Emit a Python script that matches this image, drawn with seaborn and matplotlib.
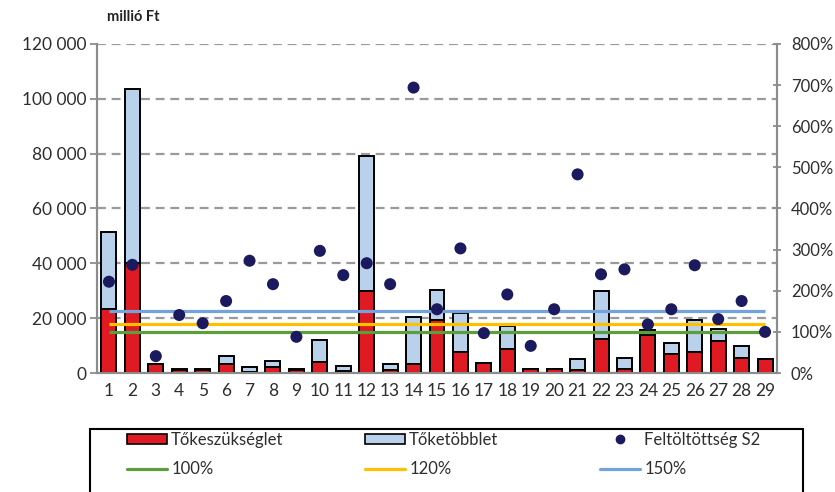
import matplotlib
matplotlib.use("Agg")
import matplotlib.pyplot as plt
from matplotlib.patches import Patch, Rectangle
from matplotlib.lines import Line2D
from matplotlib.ticker import FuncFormatter
import numpy as np
import pandas as pd
import seaborn as sns

# Insurer index 1..29
categories = [str(i) for i in range(1, 30)]

# Capital requirement (millió Ft)
tokeszukseglet = [23200, 40000, 3200, 1200, 1000, 3400, 400, 2200, 1200, 4000,
                  800, 30000, 1000, 3200, 19500, 7700, 3600, 8900, 1300, 1600,
                  1000, 12300, 1600, 14000, 7000, 7500, 11800, 5300, 5200]

# Capital surplus on top of the requirement (millió Ft)
toketobblet = [28300, 63500, 100, 400, 300, 2800, 1700, 2100, 100, 8200,
               1700, 49000, 2200, 17400, 10800, 14300, 0, 8200, 0, 0,
               4200, 17500, 3700, 1600, 3800, 11900, 4400, 4400, 0]

# Solvency ratio S2 (%)
feltoltottseg = [222, 263, 41, 141, 121, 175, 273, 216, 88, 297,
                 238, 267, 216, 694, 155, 303, 97, 191, 66, 155,
                 483, 240, 252, 118, 155, 262, 131, 175, 100]

# Reference levels (%)
thresholds = [100, 120, 150]
threshold_labels = ["100%", "120%", "150%"]

left_ticks = [0, 20000, 40000, 60000, 80000, 100000, 120000]
right_ticks = [0, 100, 200, 300, 400, 500, 600, 700, 800]

RED = "#DF1A22"
BLUE = "#B9D1EA"
NAVY = "#1C1A5E"
LINE_COLORS = ["#5B9E3B", "#FFC000", "#73A3DD"]
AXIS_GRAY = "#8C8C8C"
TEXT = "#2E2E2E"
FS = 12.5

sns.set_style("white")
plt.rcParams["font.family"] = ["Lato", "DejaVu Sans"]

df = pd.DataFrame({
    "cat": categories,
    "req": tokeszukseglet,
    "total": np.array(tokeszukseglet) + np.array(toketobblet),
    "ratio": feltoltottseg,
    "pos": np.arange(len(categories)),
})

W, H = 835, 492
fig = plt.figure(figsize=(W / 100, H / 100), dpi=100)
ax = fig.add_axes([97 / W, 1 - 373 / H, 680 / W, 329 / H])

# Stacked bars: full height in blue, requirement drawn over it in red
sns.barplot(data=df, x="cat", y="total", color=BLUE, saturation=1, width=0.64,
            edgecolor="black", linewidth=1.4, ax=ax, zorder=2)
sns.barplot(data=df, x="cat", y="req", color=RED, saturation=1, width=0.64,
            edgecolor="black", linewidth=1.4, ax=ax, zorder=3)

ax.set_xlim(-0.51, len(categories) - 0.49)
ax.set_ylim(0, 120000)
ax.set_yticks(left_ticks)
ax.yaxis.set_major_formatter(FuncFormatter(lambda v, p: f"{v:,.0f}".replace(",", " ")))
ax.set_xlabel("")
ax.set_ylabel("")
ax.set_axisbelow(True)
ax.yaxis.grid(True, linestyle=(0, (4, 2.6)), color="#9A9A9A", linewidth=1.6)
ax.xaxis.grid(False)

ax.spines["top"].set_visible(False)
for side in ["left", "right", "bottom"]:
    ax.spines[side].set_color(AXIS_GRAY)
    ax.spines[side].set_linewidth(1.5)

ax.tick_params(axis="y", direction="out", length=5, width=1.3, color=AXIS_GRAY,
               pad=2.5, labelsize=FS, labelcolor=TEXT)
ax.tick_params(axis="x", length=0, pad=7, labelsize=FS, labelcolor=TEXT)

# Secondary axis: solvency ratio and thresholds
ax2 = ax.twinx()
ax2.set_ylim(0, 800)
ax2.set_yticks(right_ticks)
ax2.yaxis.set_major_formatter(FuncFormatter(lambda v, p: f"{v:.0f}%"))
ax2.spines["top"].set_visible(False)
for side in ["left", "right", "bottom"]:
    ax2.spines[side].set_color(AXIS_GRAY)
    ax2.spines[side].set_linewidth(1.5)
ax2.tick_params(axis="y", direction="inout", length=6, width=1.3, color=AXIS_GRAY,
                pad=7, labelsize=12, labelcolor=TEXT)

for level, col in zip(thresholds, LINE_COLORS):
    ax2.plot([df["pos"].iloc[0], df["pos"].iloc[-1]], [level, level],
             color=col, linewidth=2.3, zorder=3, solid_capstyle="butt")

sns.scatterplot(data=df, x="pos", y="ratio", color=NAVY, s=75, edgecolor="none",
                ax=ax2, zorder=5, legend=False)
ax2.set_xlim(-0.51, len(categories) - 0.49)
ax2.set_xlabel("")
ax2.set_ylabel("")
ax2.grid(False)

fig.text(107 / W, 1 - 17 / H, "millió Ft", fontsize=10.5, fontweight="bold",
         color="#222222", va="center", ha="left")

# Legend: a black frame below the plot that runs past the bottom edge,
# with three columns of two entries each
fig.add_artist(Rectangle((90 / W, -0.05), 713 / W, (H - 429) / H + 0.05,
                         transform=fig.transFigure, fill=False,
                         edgecolor="black", linewidth=1.5))

columns = [
    ([Patch(facecolor=RED, edgecolor="black", linewidth=1.2),
      Line2D([], [], color=LINE_COLORS[0], linewidth=2.3)],
     ["Tőkeszükséglet", threshold_labels[0]], 127),
    ([Patch(facecolor=BLUE, edgecolor="black", linewidth=1.2),
      Line2D([], [], color=LINE_COLORS[1], linewidth=2.3)],
     ["Tőketöbblet", threshold_labels[1]], 365),
    ([Line2D([], [], marker="o", linestyle="none", color=NAVY, markersize=6),
      Line2D([], [], color=LINE_COLORS[2], linewidth=2.3)],
     ["Feltöltöttség S2", threshold_labels[2]], 600),
]
for hs, ls, x0 in columns:
    leg = fig.legend(hs, ls, loc="upper left", bbox_to_anchor=(x0 / W, 1 - 432 / H),
                     borderaxespad=0, borderpad=0, frameon=False, fontsize=12,
                     handlelength=2.4, handleheight=0.6, handletextpad=0.25,
                     labelspacing=0.8)
    for t in leg.get_texts():
        t.set_color(TEXT)

fig.savefig("out.png", dpi=100)
